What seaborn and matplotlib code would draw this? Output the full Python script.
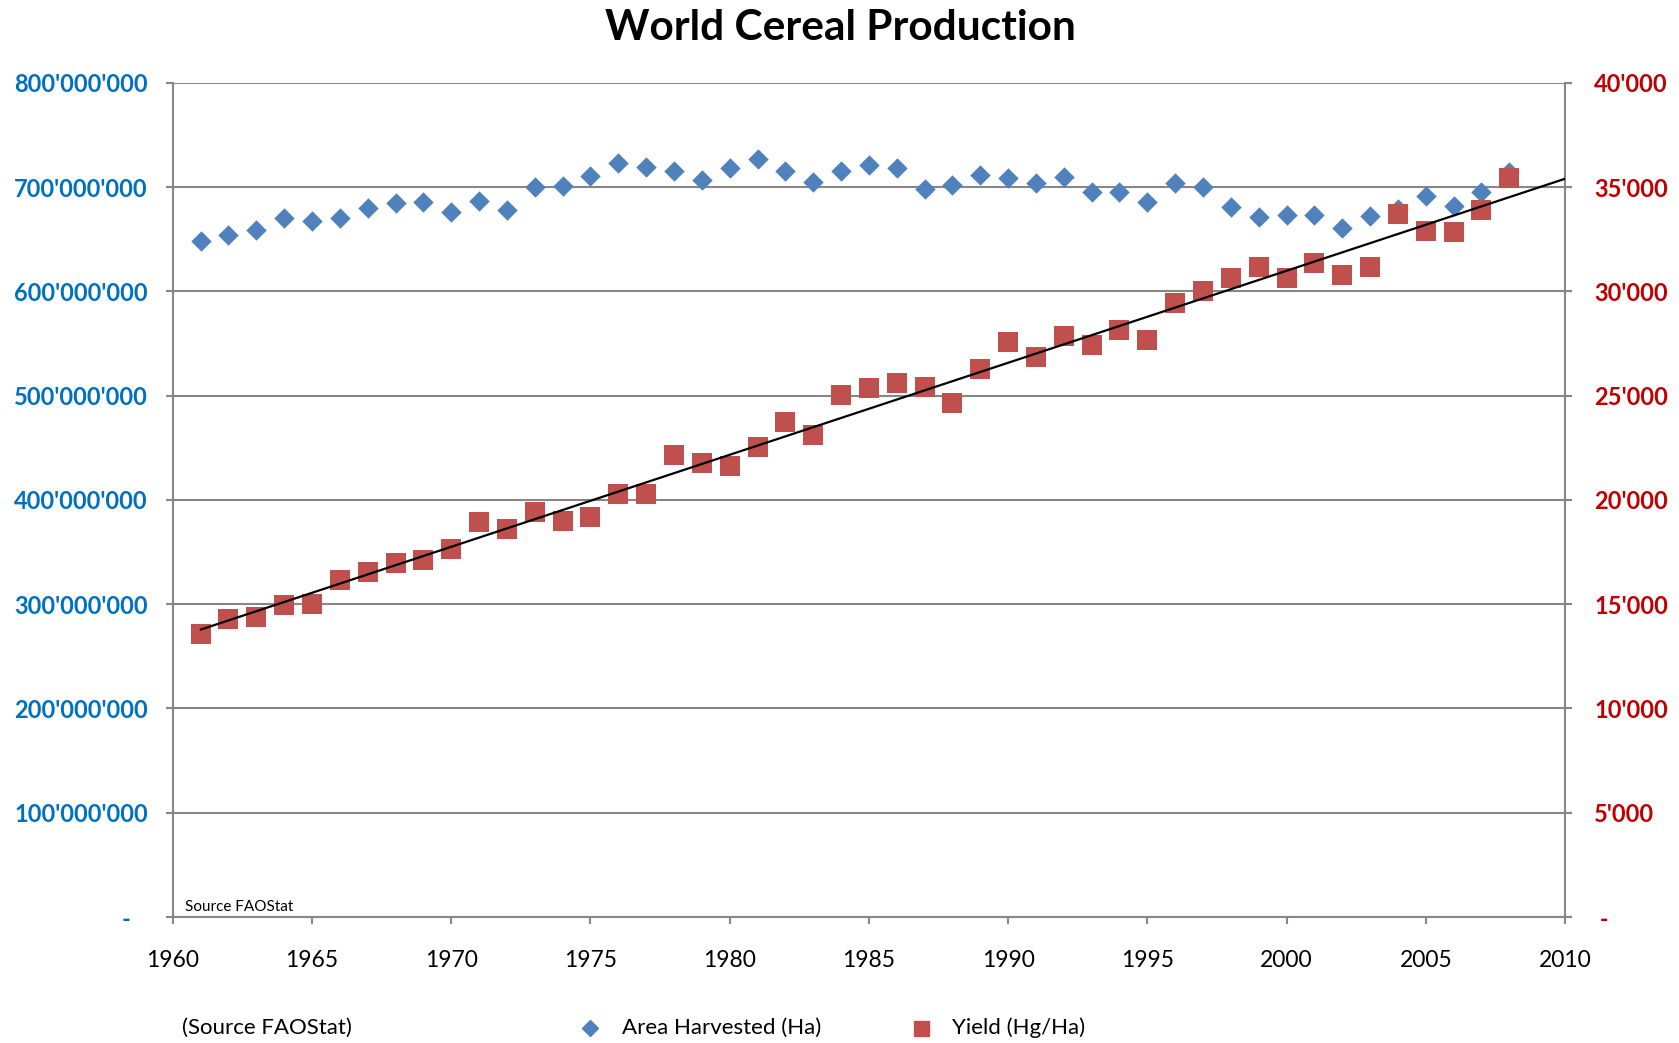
import numpy as np
import pandas as pd
import matplotlib
matplotlib.use("Agg")
import matplotlib.pyplot as plt
from matplotlib.lines import Line2D
from matplotlib.ticker import FuncFormatter
import seaborn as sns

# World cereal statistics (FAOStat)
years = list(range(1961, 2009))
area_harvested = [
    648e6, 654e6, 659e6, 670e6, 667e6, 670e6, 680e6, 685e6, 686e6, 676e6,
    687e6, 678e6, 700e6, 701e6, 711e6, 723e6, 719e6, 715e6, 707e6, 718e6,
    727e6, 715e6, 705e6, 715e6, 721e6, 718e6, 698e6, 702e6, 712e6, 709e6,
    704e6, 710e6, 695e6, 695e6, 686e6, 704e6, 700e6, 681e6, 671e6, 673e6,
    673e6, 661e6, 672e6, 679e6, 691e6, 682e6, 695e6, 714e6,
]
yield_hg_ha = [
    13550, 14300, 14380, 14940, 15000, 16140, 16560, 16970, 17120, 17670,
    18920, 18600, 19420, 18970, 19160, 20300, 20300, 22150, 21770, 21640,
    22520, 23720, 23110, 25010, 25350, 25610, 25430, 24650, 26300, 27590,
    26850, 27880, 27420, 28140, 27690, 29450, 30010, 30650, 31160, 30650,
    31380, 30770, 31160, 33690, 32900, 32850, 33880, 35450,
]
x_ticks = list(range(1960, 2011, 5))
area_ticks = list(range(0, 800_000_001, 100_000_000))
yield_ticks = list(range(0, 40_001, 5_000))

title = "World Cereal Production"
area_label = "Area Harvested (Ha)"
yield_label = "Yield (Hg/Ha)"
source_note = "Source FAOStat"
source_legend = "(Source FAOStat)"

BLUE = "#4F81BD"
RED = "#C0504D"
BLUE_TXT = "#0070C0"
RED_TXT = "#C00000"
GRID = "#878787"

df = pd.DataFrame({"year": years, "area": area_harvested, "yield": yield_hg_ha})

# Linear trend of the yield, extended to 2010
slope, intercept = np.polyfit(df["year"], df["yield"], 1)
trend = pd.DataFrame({"year": [1961, 2010]})
trend["yield"] = slope * trend["year"] + intercept

sns.set_style("white")
plt.rcParams["font.family"] = ["Lato", "DejaVu Sans"]
plt.rcParams["text.color"] = "black"

fig = plt.figure(figsize=(16.79, 10.43), dpi=100)
ax = fig.add_axes([0.1029, 0.1208, 0.8292, 0.7998])
ax2 = ax.twinx()

sns.scatterplot(data=df, x="year", y="area", marker="D", s=108, color=BLUE,
                linewidth=0, ax=ax, zorder=3, legend=False)
sns.scatterplot(data=df, x="year", y="yield", marker="s", s=200, color=RED,
                linewidth=0, ax=ax2, zorder=3, legend=False)
sns.lineplot(data=trend, x="year", y="yield", color="black", linewidth=1.6,
             ax=ax2, zorder=4, legend=False)

ax.set_xlim(1960, 2010)
ax.set_ylim(0, 800_000_000)
ax2.set_ylim(0, 40_000)
ax.set_xticks(x_ticks)
ax.set_yticks(area_ticks)
ax2.set_yticks(yield_ticks)


def apostrophe(v, _pos=None):
    v = int(round(v))
    if v == 0:
        return "-   "
    return f"{v:,}".replace(",", "'")


def apostrophe_r(v, _pos=None):
    v = int(round(v))
    if v == 0:
        return " -"
    return f"{v:,}".replace(",", "'")


ax.yaxis.set_major_formatter(FuncFormatter(apostrophe))
ax2.yaxis.set_major_formatter(FuncFormatter(apostrophe_r))

ax.grid(axis="y", color=GRID, linewidth=1.5)
ax.grid(axis="x", visible=False)
ax.set_axisbelow(True)
for a in (ax, ax2):
    a.set_xlabel("")
    a.set_ylabel("")
    for side in ("left", "right", "bottom", "top"):
        a.spines[side].set_color(GRID)
        a.spines[side].set_linewidth(1.5)
    a.spines["top"].set_visible(False)
ax.spines["right"].set_visible(False)
ax2.spines["left"].set_visible(False)
ax2.spines["bottom"].set_visible(False)

ax.tick_params(axis="y", direction="out", length=5, width=1.5, color=GRID,
               pad=13, labelsize=17, labelcolor=BLUE_TXT, left=True)
ax.tick_params(axis="x", direction="out", length=5, width=1.5, color=GRID,
               pad=19, labelsize=16.5, labelcolor="black", bottom=True)
ax2.tick_params(axis="y", direction="out", length=5, width=1.5, color=GRID,
                pad=16, labelsize=17, labelcolor=RED_TXT, right=True)
for lbl in ax.get_yticklabels() + ax2.get_yticklabels():
    lbl.set_fontweight("bold")

fig.text(0.5003, 0.9735, title, ha="center", va="center", fontsize=30.5,
         fontweight="bold", color="black")

ax.text(0.009, 0.012, source_note, transform=ax.transAxes, ha="left",
        va="center", fontsize=11, color="black")

# Legend row under the chart
ly = 1 - 1028 / 1043
fig.text(182 / 1679, ly, source_legend, ha="left", va="center", fontsize=16,
         color="black")
fig.add_artist(Line2D([590 / 1679], [ly], transform=fig.transFigure,
                      marker="D", markersize=7.8, color=BLUE, linestyle="none"))
fig.text(622 / 1679, ly, area_label, ha="left", va="center", fontsize=16,
         color="black")
fig.add_artist(Line2D([921 / 1679], [ly], transform=fig.transFigure,
                      marker="s", markersize=10.8, color=RED, linestyle="none"))
fig.text(952 / 1679, ly, yield_label, ha="left", va="center", fontsize=16,
         color="black")

fig.savefig("out.png", dpi=100, facecolor="white")
